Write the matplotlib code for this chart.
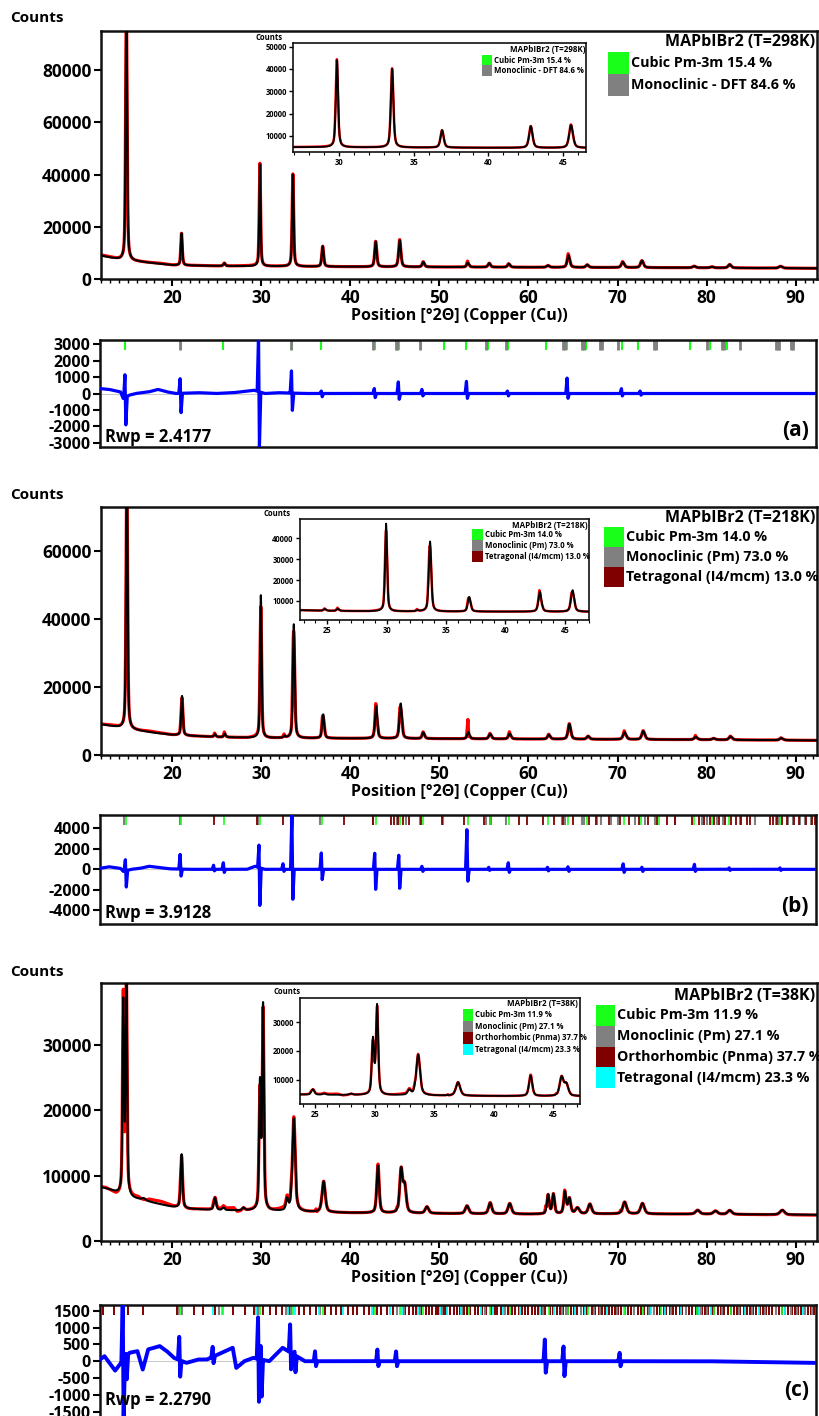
import numpy as np
import matplotlib
matplotlib.use("Agg")
import matplotlib.pyplot as plt
from matplotlib.patches import Rectangle
from matplotlib.ticker import MultipleLocator

plt.rcParams['font.family'] = ['Open Sans', 'DejaVu Sans']
plt.rcParams['font.weight'] = 'bold'
plt.rcParams['axes.unicode_minus'] = False

# ---------------- data ----------------
X_MIN, X_MAX = 12.0, 92.4

# panel (a) T=298K
bg_a_x = [12, 14.2, 15.6, 18, 20, 25, 30, 40, 50, 60, 70, 80, 92.4]
bg_a_y = [8900, 7300, 6900, 6000, 5300, 5000, 4900, 4700, 4600, 4500, 4400, 4300, 4100]
pos_a = [14.85, 21.05, 25.85, 29.85, 33.55, 36.9, 42.85, 45.55, 48.2, 53.2, 55.6, 57.8, 62.2, 64.5, 66.6, 70.6, 72.75, 78.6, 80.6, 82.6, 88.3]
hgt_a = [100000, 12300, 1100, 39000, 35200, 7800, 9700, 10200, 1900, 1700, 1500, 1300, 700, 4600, 1000, 2100, 2700, 600, 400, 1300, 700]
wid_a = [0.2, 0.2, 0.25, 0.18, 0.2, 0.25, 0.27, 0.3, 0.3, 0.3, 0.32, 0.32, 0.35, 0.35, 0.35, 0.38, 0.38, 0.4, 0.4, 0.4, 0.45]
res_a_x = [12, 13, 14.3, 14.6, 15.3, 16, 17.5, 18.5, 19.5, 20.5, 23, 25, 27, 29.3, 30.5, 32, 35, 40, 50, 60, 70, 80, 92.4]
res_a_y = [300, 250, 100, -300, -100, 0, 100, 250, 100, 0, 50, 0, 50, 200, 0, 50, 0, 0, 0, 0, 0, 0, 0]
spk_a_pos = [14.85, 21.05, 29.85, 33.55, 36.9, 42.85, 45.55, 48.2, 53.2, 57.8, 64.5, 70.6, 72.7]
spk_a_up = [1400, 900, 3400, 1350, 150, 300, 700, 250, 750, 150, 950, 300, 150]
spk_a_dn = [-1700, -1200, -3400, -1050, -200, -250, -350, -150, -300, -150, -300, -150, -100]
cub_a = [14.85, 21.05, 25.85, 29.85, 33.55, 36.85, 42.85, 45.55, 48.1, 50.6, 53.1, 55.6, 57.8, 62.1, 64.4, 66.6, 70.6, 72.4, 74.6, 78.3, 80.5, 82.4, 88.2]
mon_a = [21.0, 29.7, 33.45, 42.7, 45.2, 45.4, 47.95, 55.3, 57.6, 64.0, 64.2, 66.1, 66.3, 68.2, 68.4, 70.2, 74.2, 74.4, 80.2, 81.9, 82.1, 83.9, 87.9, 88.1, 88.3, 89.6, 89.8]

# panel (b) T=218K
bg_b_x = [12, 14.2, 15.6, 18, 20, 25, 30, 40, 50, 60, 70, 80, 92.4]
bg_b_y = [9000, 8000, 7400, 6500, 5900, 5300, 5000, 4900, 4800, 4700, 4600, 4500, 4300]
pos_b = [14.9, 21.1, 24.8, 25.9, 29.95, 32.6, 33.65, 36.95, 42.9, 45.65, 48.2, 53.25, 55.7, 57.9, 62.3, 64.6, 66.7, 70.8, 72.9, 78.8, 80.8, 82.7, 88.4]
hgt_b = [80000, 11600, 800, 1000, 42000, 500, 33500, 7000, 9500, 10300, 1800, 2000, 1500, 1600, 1300, 4500, 900, 2100, 2500, 800, 400, 1000, 600]
wid_b = [0.2, 0.22, 0.25, 0.25, 0.2, 0.25, 0.24, 0.28, 0.3, 0.32, 0.32, 0.32, 0.34, 0.34, 0.36, 0.36, 0.36, 0.4, 0.4, 0.42, 0.42, 0.42, 0.45]
res_b_x = [12, 13, 14.3, 14.6, 15.5, 16.5, 17.5, 18.5, 19.8, 22, 28.5, 29.4, 30.5, 35, 40, 50, 60, 70, 80, 92.4]
res_b_y = [100, 250, 100, -200, 0, 100, 300, 200, 50, 0, 0, 300, 0, 0, 0, 0, 0, 0, 0, 0]
spk_b_pos = [14.9, 21.05, 24.8, 25.9, 29.9, 32.6, 33.6, 36.9, 42.9, 45.6, 48.2, 53.25, 55.7, 57.9, 62.3, 64.6, 70.8, 72.9, 78.8, 82.7, 88.4]
spk_b_up = [1100, 1450, 400, 650, 2200, 550, 5500, 1600, 1600, 1400, 300, 3900, 200, 650, 200, 250, 550, 200, 500, 150, 150]
spk_b_dn = [-1650, -700, -150, -300, -3700, -200, -3000, -1000, -2000, -1900, -200, -1200, -100, -300, -150, -200, -300, -200, -200, -100, -100]
cub_b = [14.95, 21.1, 25.95, 30.0, 33.65, 36.95, 42.95, 45.65, 48.25, 53.3, 55.75, 57.95, 62.35, 64.6, 66.7, 70.8, 72.8, 74.8, 78.7, 80.7, 82.6, 88.4]
mon_b = [14.75, 20.95, 29.75, 33.45, 36.75, 42.7, 45.3, 46.4, 47.95, 50.5, 55.3, 55.95, 57.6, 63.9, 64.2, 66.1, 66.4, 67.8, 68.3, 69.4, 70.2, 72.1, 73.2, 74.3, 76.6, 79.6, 80.2, 81.3, 82.0, 83.9, 85.5, 87.9, 88.2, 89.3, 89.8, 90.6, 91.2, 91.8]
tet_b = [24.8, 29.65, 32.6, 33.6, 39.35, 42.6, 44.7, 45.0, 45.5, 46.0, 46.7, 48.1, 50.4, 52.9, 55.1, 55.8, 59.1, 59.9, 61.7, 63.0, 64.0, 65.1, 66.9, 67.7, 69.1, 70.4, 71.4, 72.5, 73.5, 74.6, 75.7, 76.6, 78.5, 79.3, 79.8, 80.5, 81.0, 81.5, 82.2, 82.9, 83.4, 84.0, 84.6, 85.0, 87.2, 87.6, 88.0, 88.6, 89.1, 89.9, 90.5, 91.3, 91.9, 92.3]

# panel (c) T=38K
bg_c_x = [12, 13, 14.0, 15.5, 16.5, 18, 20, 22, 25, 30, 40, 50, 60, 70, 80, 92.4]
bg_c_y = [8200, 7800, 7200, 6500, 6300, 5800, 5200, 4900, 4700, 4600, 4300, 4200, 4100, 4150, 4100, 4000]
pos_c = [14.5, 14.85, 16.8, 21.05, 24.8, 25.75, 28.0, 29.85, 30.2, 32.9, 33.65, 37.0, 43.1, 45.7, 46.1, 48.6, 53.1, 55.7, 57.9, 62.2, 62.8, 64.1, 64.6, 65.5, 66.9, 70.8, 72.8, 79.0, 81.0, 82.6, 88.5]
hgt_c = [29000, 33000, 300, 8200, 1900, 400, 400, 19000, 31000, 1700, 14200, 4700, 7200, 6500, 4000, 1000, 1200, 1700, 1600, 2900, 3000, 3300, 2300, 900, 1500, 1800, 1600, 600, 500, 600, 700]
wid_c = [0.2, 0.2, 0.4, 0.25, 0.3, 0.3, 0.35, 0.22, 0.22, 0.3, 0.38, 0.42, 0.32, 0.38, 0.4, 0.45, 0.45, 0.42, 0.45, 0.3, 0.3, 0.32, 0.35, 0.5, 0.45, 0.5, 0.5, 0.55, 0.55, 0.55, 0.6]
res_c_x = [12, 12.5, 13.7, 14.2, 15.3, 16.2, 16.8, 17.4, 18.7, 19.5, 20.3, 21.7, 23, 24, 26.9, 27.3, 28.2, 29.2, 31, 32.5, 35, 40, 50, 60, 70, 80, 92.4]
res_c_y = [50, 150, -280, -100, 250, 300, -250, 350, 450, 300, 100, -50, 50, 50, 400, -200, 0, 100, 0, 400, 0, 0, 0, 0, 0, 0, -50]
spk_c_pos = [14.6, 14.95, 20.95, 24.7, 29.8, 30.1, 33.4, 33.9, 36.2, 43.2, 45.3, 62.0, 64.1, 70.4]
spk_c_up = [1800, 100, 700, 300, 1250, 400, 850, 100, 300, 350, 300, 650, 450, 250]
spk_c_dn = [-1800, -700, -500, -200, -1300, -1100, -500, -500, -150, -150, -150, -350, -450, -150]
cub_c = [14.75, 21.0, 25.8, 29.95, 33.7, 37.0, 42.9, 45.7, 48.3, 53.4, 55.8, 58.0, 62.4, 64.6, 66.8, 71.0, 73.0, 75.0, 79.0, 80.9, 82.8, 88.6]
mon_c = [20.9, 21.2, 25.4, 29.7, 32.9, 33.4, 36.7, 42.6, 45.3, 46.1, 47.9, 50.4, 52.7, 55.2, 57.5, 61.8, 63.9, 64.3, 66.0, 67.5, 68.2, 70.1, 72.0, 73.6, 74.2, 76.1, 77.8, 79.5, 80.2, 81.9, 83.8, 85.2, 86.7, 87.9, 89.6, 90.3, 91.2, 92.0]
tet_c = [14.55, 24.7, 25.65, 29.55, 33.1, 33.9, 36.6, 39.3, 42.5, 44.6, 45.9, 47.7, 50.2, 51.0, 52.5, 54.8, 56.1, 57.3, 59.2, 61.4, 63.0, 65.3, 66.5, 68.9, 70.8, 73.9, 75.5, 77.2, 79.3, 80.6, 84.4, 86.0, 88.9, 90.9]
ort_c = [12.3, 13.6, 15.2, 16.8, 20.7, 22.5, 23.6, 24.9, 26.9, 28.3, 29.3, 30.3, 31.1, 31.8, 32.4, 33.2, 34.3, 34.9, 35.6, 36.2,
         37.3, 37.9, 38.5, 39.1, 39.8, 40.4, 40.9, 41.6, 42.2, 43.1, 43.6, 44.2, 44.9, 45.4, 46.3, 46.7, 47.2, 47.5, 48.0, 48.6,
         48.9, 49.3, 49.7, 50.0, 50.6, 50.9, 51.3, 51.7, 52.1, 52.4, 52.9, 53.2, 53.6, 54.1, 54.4, 54.9, 55.4, 55.9, 56.3, 56.6,
         57.0, 57.4, 57.8, 58.3, 58.6, 59.0, 59.4, 59.7, 60.1, 60.5, 60.9, 61.2, 61.6, 62.0, 62.5, 62.9, 63.3, 63.6, 64.0, 64.5,
         64.9, 65.2, 65.6, 66.0, 66.3, 66.7, 67.2, 67.6, 68.0, 68.4, 68.7, 69.1, 69.5, 69.8, 70.2, 70.5, 70.9, 71.3, 71.6, 72.0,
         72.4, 72.7, 73.1, 73.5, 73.8, 74.2, 74.5, 74.9, 75.3, 75.6, 76.0, 76.3, 76.7, 77.1, 77.4, 77.8, 78.1, 78.5, 78.9, 79.2,
         79.6, 79.9, 80.3, 80.7, 81.0, 81.4, 81.7, 82.1, 82.5, 82.8, 83.2, 83.5, 83.9, 84.3, 84.6, 85.0, 85.3, 85.7, 86.1, 86.4,
         86.8, 87.1, 87.5, 87.9, 88.2, 88.6, 88.9, 89.3, 89.7, 90.0, 90.4, 90.7, 91.1, 91.5, 91.8, 92.2]

titles = ['MAPbIBr2 (T=298K)', 'MAPbIBr2 (T=218K)', 'MAPbIBr2 (T=38K)']
labels_a = ['Cubic Pm-3m 15.4 %', 'Monoclinic - DFT 84.6 %']
labels_b = ['Cubic Pm-3m 14.0 %', 'Monoclinic (Pm) 73.0 %', 'Tetragonal (I4/mcm) 13.0 %']
labels_c = ['Cubic Pm-3m 11.9 %', 'Monoclinic (Pm) 27.1 %', 'Orthorhombic (Pnma) 37.7 %', 'Tetragonal (I4/mcm) 23.3 %']
rwp = ['Rwp = 2.4177', 'Rwp = 3.9128', 'Rwp = 2.2790']
tags = ['(a)', '(b)', '(c)']

GREEN, GRAY, DRED, CYAN = '#19ff19', '#808080', '#800000', '#00ffff'

# ---------------- helpers ----------------
W, H = 819, 1416
fig = plt.figure(figsize=(W / 100, H / 100), dpi=100)
xg = np.linspace(X_MIN, X_MAX, 12001)


def px_axes(l, t, r, b):
    return fig.add_axes([l / W, 1 - b / H, (r - l) / W, (b - t) / H])


def calc_profile(bgx, bgy, pos, hgt, wid):
    y = np.interp(xg, bgx, bgy)
    for p, h, w in zip(pos, hgt, wid):
        d = (xg - p) / w
        y = y + h * (0.5 / (1 + 4 * d ** 2) + 0.5 * np.exp(-4 * np.log(2) * d ** 2))
    return y


def diff_curve(rx, ry, sp, up, dn):
    y = np.interp(xg, rx, ry)
    for p, a1, a2 in zip(sp, up, dn):
        y = y + np.interp(xg, [p - 0.2, p - 0.05, p + 0.05, p + 0.2], [0, a1, a2, 0], left=0, right=0)
    return y


def style_frame(ax, lw=1.8):
    for s in ax.spines.values():
        s.set_linewidth(lw)
        s.set_color('#111111')


def main_panel(box, ylim, ystep, calc, obs):
    ax = px_axes(*box)
    ax.plot(xg, obs, color='red', lw=2.3, zorder=2)
    ax.plot(xg, calc, color='black', lw=1.5, zorder=3)
    ax.set_xlim(X_MIN, X_MAX)
    ax.set_ylim(*ylim)
    ax.xaxis.set_major_locator(MultipleLocator(10))
    ax.xaxis.set_minor_locator(MultipleLocator(1))
    ax.yaxis.set_major_locator(MultipleLocator(ystep))
    ax.tick_params(axis='both', which='major', direction='out', length=5, width=1.5, labelsize=12.5, pad=2)
    ax.tick_params(axis='x', which='minor', direction='out', length=3, width=1.0)
    ax.set_xlabel('Position [°2Θ] (Copper (Cu))', fontsize=11.5, fontweight='bold', labelpad=1)
    style_frame(ax)
    return ax


def inset_panel(box, xlim, ylim, ystep, calc, obs):
    ax = px_axes(*box)
    ax.plot(xg, obs, color='red', lw=1.8, zorder=2)
    ax.plot(xg, calc, color='black', lw=1.3, zorder=3)
    ax.set_xlim(*xlim)
    ax.set_ylim(*ylim)
    ax.xaxis.set_major_locator(MultipleLocator(5))
    ax.xaxis.set_minor_locator(MultipleLocator(1))
    ax.yaxis.set_major_locator(MultipleLocator(ystep))
    ax.tick_params(axis='both', which='major', direction='out', length=3, width=1.0, labelsize=5.5, pad=1.5)
    ax.tick_params(axis='x', which='minor', direction='out', length=2, width=0.8)
    style_frame(ax, 1.2)
    return ax


def resid_panel(box, ylim, ystep, res, markers, lw=1.6):
    ax = px_axes(*box)
    ax.axhline(0, color='#cccccc', lw=0.8, zorder=1)
    ax.plot(xg, res, color='#0000ff', lw=lw, zorder=3)
    hpx = box[3] - box[1]
    for vals, col, mlw in markers:
        ax.vlines(vals, 1 - 10 / hpx, 1, colors=col, lw=mlw, transform=ax.get_xaxis_transform(), zorder=2)
    ax.set_xlim(X_MIN, X_MAX)
    ax.set_ylim(*ylim)
    ax.yaxis.set_major_locator(MultipleLocator(ystep))
    ax.set_xticks([])
    ax.tick_params(axis='y', which='major', direction='out', length=5, width=1.5, labelsize=11.5, pad=2)
    style_frame(ax)
    return ax


def legend_block(title, tr, ty, labels, colors, bx, btop, bw, bh, fs_t, fs):
    fig.text(tr / W, 1 - ty / H, title, ha='right', va='center', fontsize=fs_t, fontweight='bold', zorder=5)
    for i, (lab, col) in enumerate(zip(labels, colors)):
        y0 = btop + i * bh
        fig.patches.append(Rectangle((bx / W, 1 - (y0 + bh) / H), bw / W, bh / H,
                                     transform=fig.transFigure, facecolor=col, edgecolor='none', zorder=4))
        fig.text((bx + bw + 2) / W, 1 - (y0 + bh / 2) / H, lab, ha='left', va='center',
                 fontsize=fs, fontweight='bold', zorder=5)


def ftext(x, y, s, fs, ha='left'):
    fig.text(x / W, 1 - y / H, s, ha=ha, va='center', fontsize=fs, fontweight='bold', zorder=6)


# ---------------- build panels ----------------
panels = [
    dict(bg=(bg_a_x, bg_a_y), pk=(pos_a, hgt_a, wid_a), rs=(res_a_x, res_a_y, spk_a_pos, spk_a_up, spk_a_dn),
         main=(101, 31, 817, 279), ylim=(0, 95000), ystep=20000,
         res=(100, 340, 816, 447), rylim=(-3243, 3243), rstep=1000, rlw=2.3,
         markers=[(cub_a, GREEN, 1.5), (mon_a, GRAY, 2.0)],
         inset=(293, 43, 586, 152), ixlim=(26.9, 46.55), iylim=(2800, 51600), istep=10000,
         counts_main=(10, 18), counts_in=(255, 37),
         leg=(labels_a, [GREEN, GRAY], 815, 42, 608, 52, 21, 22),
         ileg=(585, 49, 482, 55, 10, 10.5),
         rwp_xy=(105, 437), tag_xy=(809, 430)),
    dict(bg=(bg_b_x, bg_b_y), pk=(pos_b, hgt_b, wid_b), rs=(res_b_x, res_b_y, spk_b_pos, spk_b_up, spk_b_dn),
         main=(101, 507, 817, 755), ylim=(0, 73000), ystep=20000,
         res=(100, 815, 816, 924), rylim=(-5320, 5290), rstep=2000, rlw=2.3,
         markers=[(mon_b, GRAY, 1.5), (tet_b, DRED, 1.3), (cub_b, GREEN, 1.2)],
         inset=(300, 519, 589, 620), ixlim=(22.7, 47.03), iylim=(900, 49200), istep=10000,
         counts_main=(10, 495), counts_in=(264, 513),
         leg=(labels_b, [GREEN, GRAY, DRED], 815, 518, 604, 527, 20, 20),
         ileg=(588, 525, 472, 529, 11, 11),
         rwp_xy=(105, 913), tag_xy=(809, 906)),
    dict(bg=(bg_c_x, bg_c_y), pk=(pos_c, hgt_c, wid_c), rs=(res_c_x, res_c_y, spk_c_pos, spk_c_up, spk_c_dn),
         main=(101, 983, 817, 1241), ylim=(0, 39400), ystep=10000,
         res=(100, 1305, 816, 1418), rylim=(-1686, 1669), rstep=500, rlw=2.8,
         markers=[(ort_c, DRED, 1.4), (mon_c, GRAY, 1.5), (tet_c, CYAN, 1.3), (cub_c, GREEN, 1.2)],
         inset=(300, 998, 580, 1104), ixlim=(23.72, 47.25), iylim=(1500, 38500), istep=10000,
         counts_main=(10, 972), counts_in=(274, 992),
         leg=(labels_c, [GREEN, GRAY, DRED, CYAN], 815, 996, 596, 1005, 19, 20.8),
         ileg=(578, 1004, 463, 1009, 10, 11.5),
         rwp_xy=(105, 1400), tag_xy=(809, 1390)),
]

for i, P in enumerate(panels):
    calc = calc_profile(*P['bg'], *P['pk'])
    res = diff_curve(*P['rs'])
    obs = calc + res
    main_panel(P['main'], P['ylim'], P['ystep'], calc, obs)
    resid_panel(P['res'], P['rylim'], P['rstep'], res, P['markers'], P['rlw'])
    inset_panel(P['inset'], P['ixlim'], P['iylim'], P['istep'], calc, obs)
    ftext(*P['counts_main'], 'Counts', 11)
    ftext(*P['counts_in'], 'Counts', 5.5)
    labs, cols, tr, ty, bx, btop, bw, bh = P['leg']
    legend_block(titles[i], tr, ty, labs, cols, bx, btop, bw, bh, 11.5, 10.3)
    itr, ity, ibx, ibtop, ibw, ibh = P['ileg']
    legend_block(titles[i], itr, ity, labs, cols, ibx, ibtop, ibw, ibh, 5.8, 5.6)
    ftext(*P['rwp_xy'], rwp[i], 12)
    ftext(*P['tag_xy'], tags[i], 15, ha='right')

fig.savefig('out.png', dpi=100)
